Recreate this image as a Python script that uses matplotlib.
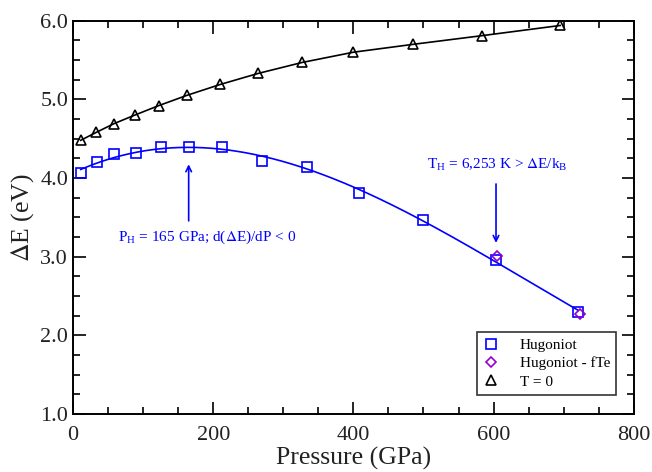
import numpy as np
import matplotlib
matplotlib.use('Agg')
import matplotlib.pyplot as plt
from matplotlib.ticker import MultipleLocator

# Hugoniot band gap vs pressure
p_hug = [11, 34, 59, 90, 125, 166, 213, 270, 334, 408, 500, 604, 721]
e_hug = [4.06, 4.20, 4.31, 4.32, 4.39, 4.39, 4.39, 4.22, 4.14, 3.81, 3.47, 2.96, 2.30]

# Hugoniot with finite electron temperature
p_fte = [605, 723]
e_fte = [3.01, 2.27]

# cold curve (T = 0)
p_cold = [11, 33, 58, 88, 122, 162, 210, 264, 327, 400, 485, 583, 695]
e_cold = [4.48, 4.58, 4.69, 4.80, 4.92, 5.05, 5.19, 5.33, 5.47, 5.60, 5.70, 5.81, 5.94]

plt.rcParams['font.family'] = ['Liberation Serif', 'DejaVu Serif']
plt.rcParams['mathtext.fontset'] = 'stix'

blue = '#0000ff'
violet = '#9400d3'
txt = '#222222'

fig = plt.figure(figsize=(6.52, 4.72), dpi=100)
ax = fig.add_axes([0.112, 0.123, 0.860, 0.833])

# smooth fit through the Hugoniot points
coef = np.polyfit(p_hug, e_hug, 3)
pp = np.linspace(min(p_hug), max(p_hug), 300)
ax.plot(pp, np.polyval(coef, pp), color=blue, lw=1.2)
ax.plot(p_cold, e_cold, color='black', lw=1.2)

ax.plot(p_hug, e_hug, ls='none', marker='s', ms=7.5, mfc='none', mec=blue, mew=1.2, label='Hugoniot')
ax.plot(p_fte, e_fte, ls='none', marker='D', ms=5.5, mfc='none', mec=violet, mew=1.2, label='Hugoniot - fTe')
ax.plot(p_cold, e_cold, ls='none', marker='^', ms=7, mfc='none', mec='black', mew=1.2, label='T = 0')

# annotations
ax.annotate('', xy=(165, 4.21), xytext=(165, 3.42),
            arrowprops=dict(arrowstyle='->', color=blue, lw=1.2))
ax.text(191, 3.24, r'P$_\mathregular{H}$ = 165 GPa; d($\Delta$E)/dP < 0', color=blue,
        fontsize=11, ha='center', va='center')
ax.annotate('', xy=(603.5, 3.14), xytext=(603.5, 3.96),
            arrowprops=dict(arrowstyle='->', color=blue, lw=1.2))
ax.text(605, 4.17, r'T$_\mathregular{H}$ = 6,253 K > $\Delta$E/k$_\mathregular{B}$', color=blue,
        fontsize=11, ha='center', va='center')

ax.set_xlim(0, 800)
ax.set_ylim(1.0, 6.0)
ax.xaxis.set_major_locator(MultipleLocator(200))
ax.xaxis.set_minor_locator(MultipleLocator(50))
ax.yaxis.set_major_locator(MultipleLocator(1.0))
ax.yaxis.set_minor_locator(MultipleLocator(0.25))
ax.yaxis.set_major_formatter(matplotlib.ticker.FormatStrFormatter('%.1f'))
ax.tick_params(which='both', direction='in', top=True, right=True, width=1.2,
               labelsize=16, labelcolor=txt)
ax.tick_params(which='major', length=9)
ax.tick_params(which='minor', length=5)
ax.tick_params(axis='x', which='major', pad=9)
for s in ax.spines.values():
    s.set_linewidth(1.4)

ax.set_xlabel('Pressure (GPa)', fontsize=18.5, labelpad=1, color=txt)
ax.set_ylabel(r'$\Delta$E (eV)', fontsize=18.5, labelpad=3, color=txt)

leg = ax.legend(loc='lower right', bbox_to_anchor=(0.969, 0.049), fontsize=11,
                frameon=True, fancybox=False, edgecolor='black', handlelength=1.0,
                handletextpad=1.4, borderpad=0.4, labelspacing=0.3, borderaxespad=0)
leg.get_frame().set_linewidth(1.2)

fig.savefig('out.png', dpi=100)
